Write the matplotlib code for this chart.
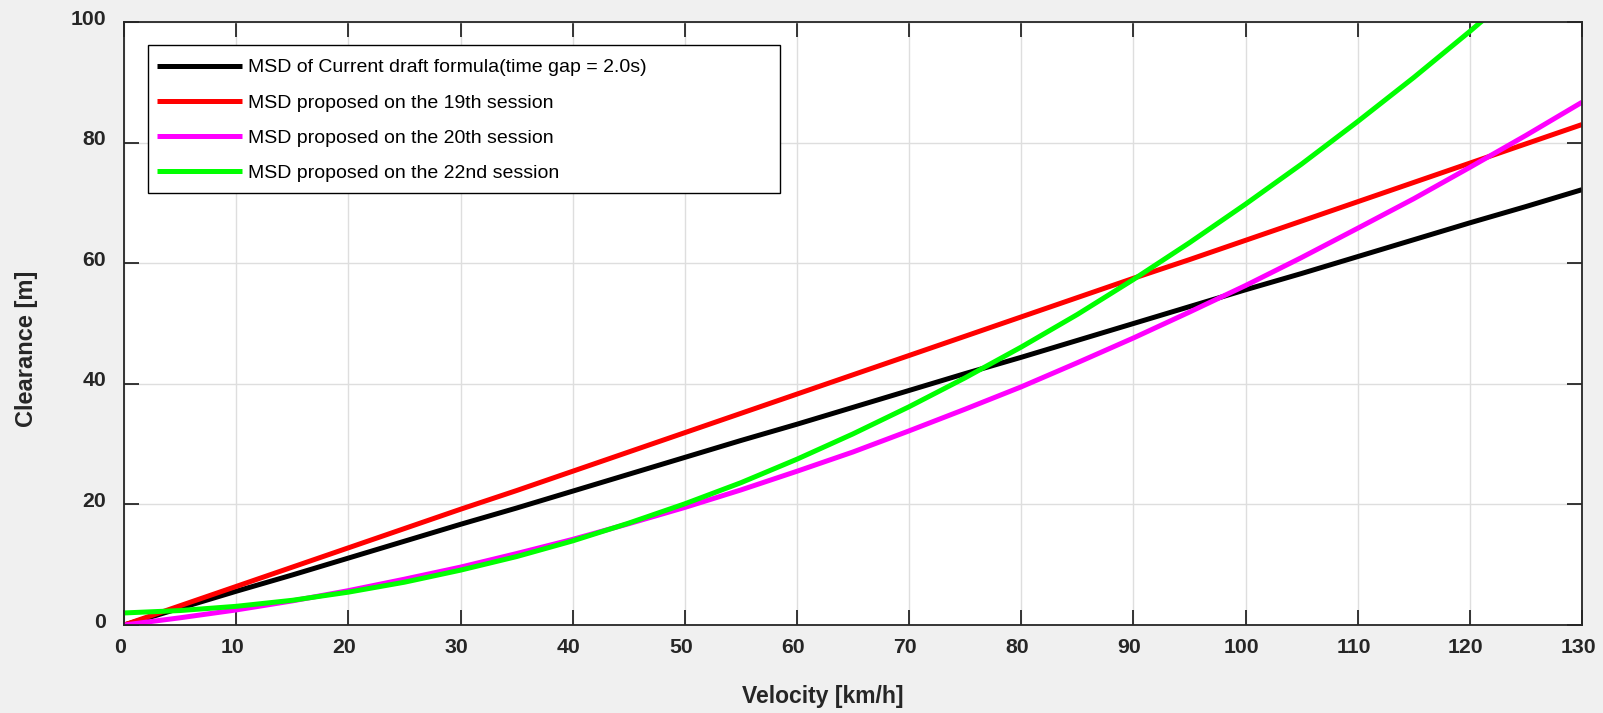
import matplotlib
matplotlib.use("Agg")
import matplotlib.pyplot as plt
from matplotlib.transforms import ScaledTranslation
from matplotlib.patches import Rectangle

# ---- data ----
velocity = [0, 5, 10, 15, 20, 25, 30, 35, 40, 45, 50, 55, 60, 65,
            70, 75, 80, 85, 90, 95, 100, 105, 110, 115, 120, 125, 130]
msd_current = [0, 2.8, 5.6, 8.3, 11.1, 13.9, 16.7, 19.4, 22.2, 25.0, 27.8, 30.6, 33.3, 36.1,
               38.9, 41.7, 44.4, 47.2, 50.0, 52.8, 55.6, 58.3, 61.1, 63.9, 66.7, 69.4, 72.2]
msd_19th = [0, 3.2, 6.4, 9.6, 12.8, 16.0, 19.2, 22.3, 25.5, 28.7, 31.9, 35.1, 38.3, 41.5,
            44.7, 47.9, 51.1, 54.3, 57.5, 60.6, 63.8, 67.0, 70.2, 73.4, 76.6, 79.8, 83.0]
msd_20th = [0, 1.2, 2.5, 4.0, 5.7, 7.6, 9.6, 11.85, 14.2, 16.8, 19.5, 22.4, 25.5, 28.7,
            32.2, 35.8, 39.5, 43.5, 47.6, 51.9, 56.3, 60.95, 65.8, 70.7, 75.9, 81.2, 86.7]
msd_22nd = [2.0, 2.4, 3.1, 4.1, 5.45, 7.1, 9.1, 11.35, 13.95, 16.9, 20.1, 23.6, 27.5, 31.7,
            36.2, 41.0, 46.1, 51.5, 57.3, 63.4, 69.8, 76.45, 83.5, 90.8, 98.45, 106.4, 114.7]

labels = [
    "MSD of Current draft formula(time gap = 2.0s)",
    "MSD proposed on the 19th session",
    "MSD proposed on the 20th session",
    "MSD proposed on the 22nd session",
]
colors = ["#000000", "#ff0000", "#ff00ff", "#00ff00"]
xticks = list(range(0, 131, 10))
yticks = [0, 20, 40, 60, 80, 100]

axc = "#262626"
plt.rcParams['font.family'] = ['Liberation Sans', 'DejaVu Sans']

fig = plt.figure(figsize=(16.03, 7.13), dpi=100, facecolor="#f0f0f0")
ax = fig.add_axes([0.0774, 0.1234, 0.9095, 0.8457])
ax.set_facecolor("white")

for y, c, lab in zip([msd_current, msd_19th, msd_20th, msd_22nd], colors, labels):
    ax.plot(velocity, y, color=c, lw=3.6, label=lab, solid_capstyle='butt')

ax.set_xlim(0, 130)
ax.set_ylim(0, 100)
ax.set_xticks(xticks)
ax.set_yticks(yticks)
ax.grid(True, color="#dedede", lw=1.0)
ax.set_axisbelow(True)

for s in ax.spines.values():
    s.set_color(axc)
    s.set_linewidth(1.3)

ax.tick_params(axis='both', which='both', direction='in', length=10.8, width=1.3,
               color=axc, labelcolor=axc, top=True, right=True, labelsize=15.3)
ax.tick_params(axis='x', pad=9)
ax.tick_params(axis='y', pad=13)
for lb in ax.get_xticklabels() + ax.get_yticklabels():
    lb.set_fontweight('bold')
for lb in ax.get_yticklabels():
    lb.set_transform(lb.get_transform() + ScaledTranslation(0, 5 / 100, fig.dpi_scale_trans))
for lb in ax.get_xticklabels():
    lb.set_transform(lb.get_transform() + ScaledTranslation(-4 / 100, 0, fig.dpi_scale_trans))

ax.set_xlabel("Velocity [km/h]", fontsize=16.5, fontweight='bold', color=axc, va='center')
ax.xaxis.set_label_coords(0.479, -0.118)
ax.set_ylabel("Clearance [m]", fontsize=17, fontweight='bold', color=axc, va='center')
ax.yaxis.set_label_coords(-0.0669, 0.458)

# legend frame (drawn separately so the entries can sit where the reference has them)
frame = Rectangle((0.01667, 0.7159), 0.4499 - 0.01667, 0.9619 - 0.7159,
                  transform=ax.transAxes, facecolor='white', edgecolor='black',
                  lw=1.0, zorder=4.9)
ax.add_patch(frame)
leg = ax.legend(loc='upper left', bbox_to_anchor=(0.02243, 0.9391), borderaxespad=0,
                frameon=False, borderpad=0,
                prop={'family': ['Liberation Sans'], 'size': 14},
                handlelength=4.37, handletextpad=0.3, labelspacing=0.905)
leg.set_zorder(5)

fig.savefig("out.png", dpi=100, facecolor=fig.get_facecolor())
